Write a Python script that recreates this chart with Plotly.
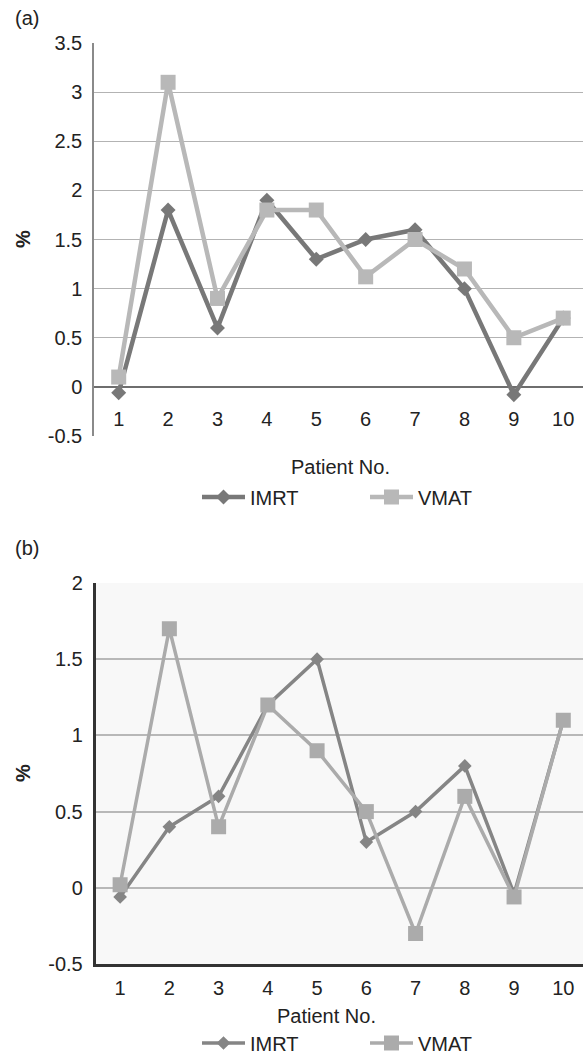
import plotly.graph_objects as go

patients = [1, 2, 3, 4, 5, 6, 7, 8, 9, 10]
tick_labels = ["1", "2", "3", "4", "5", "6", "7", "8", "9", "10"]

imrt_a = [-0.06, 1.8, 0.6, 1.9, 1.3, 1.5, 1.6, 1.0, -0.08, 0.7]
vmat_a = [0.1, 3.1, 0.9, 1.8, 1.8, 1.12, 1.5, 1.2, 0.5, 0.7]

imrt_b = [-0.06, 0.4, 0.6, 1.2, 1.5, 0.3, 0.5, 0.8, -0.04, 1.1]
vmat_b = [0.02, 1.7, 0.4, 1.2, 0.9, 0.5, -0.3, 0.6, -0.06, 1.1]

ya_ticks = [-0.5, 0, 0.5, 1, 1.5, 2, 2.5, 3, 3.5]
ya_text = ["-0.5", "0", "0.5", "1", "1.5", "2", "2.5", "3", "3.5"]
yb_ticks = [-0.5, 0, 0.5, 1, 1.5, 2]
yb_text = ["-0.5", "0", "0.5", "1", "1.5", "2"]

W, H = 583, 1057
FONT = "Liberation Sans, Arial, Helvetica, sans-serif"
TXT = "#222222"
FS = 20

def fy(px):
    return 1 - px / H

fig = go.Figure()

# Panel (a)
fig.add_trace(go.Scatter(x=patients, y=imrt_a, name="IMRT", mode="lines+markers",
                         xaxis="x", yaxis="y", legend="legend",
                         line=dict(color="#787878", width=4.5),
                         marker=dict(symbol="diamond", size=11.5, color="#787878")))
fig.add_trace(go.Scatter(x=patients, y=vmat_a, name="VMAT", mode="lines+markers",
                         xaxis="x", yaxis="y", legend="legend",
                         line=dict(color="#b8b8b8", width=4.5),
                         marker=dict(symbol="square", size=15, color="#b8b8b8")))

# Panel (b)
fig.add_trace(go.Scatter(x=patients, y=imrt_b, name="IMRT", mode="lines+markers",
                         xaxis="x2", yaxis="y2", legend="legend2",
                         line=dict(color="#858585", width=3.5),
                         marker=dict(symbol="diamond", size=10.5, color="#858585")))
fig.add_trace(go.Scatter(x=patients, y=vmat_b, name="VMAT", mode="lines+markers",
                         xaxis="x2", yaxis="y2", legend="legend2",
                         line=dict(color="#ababab", width=3.5),
                         marker=dict(symbol="square", size=15, color="#ababab")))

ya_dom = [fy(436), fy(43)]
yb_dom = [fy(964), fy(583)]
a_range = [-0.5, 3.5]
zero_pos_a = ya_dom[0] + (0 - a_range[0]) / (a_range[1] - a_range[0]) * (ya_dom[1] - ya_dom[0])

common_x = dict(tickmode="array", tickvals=patients, ticktext=tick_labels,
                showgrid=False, zeroline=False, fixedrange=True, automargin=False,
                tickfont=dict(family=FONT, size=FS, color=TXT),
                ticks="outside", tickcolor="rgba(0,0,0,0)")

fig.update_layout(
    width=W, height=H,
    margin=dict(l=0, r=0, t=0, b=0, autoexpand=False),
    paper_bgcolor="white",
    plot_bgcolor="rgba(0,0,0,0)",
    font=dict(family=FONT, size=FS, color=TXT),
    xaxis=dict(domain=[94 / W, 1.0], range=[0.5, 10.4], anchor="free",
               position=zero_pos_a, showline=False, ticklen=14, **common_x),
    yaxis=dict(domain=ya_dom, range=a_range, tickmode="array", tickvals=ya_ticks, ticktext=ya_text,
               showgrid=True, gridcolor="#b3b3b3", gridwidth=1.3, automargin=False,
               zeroline=True, zerolinecolor="#6e6e6e", zerolinewidth=2,
               showline=True, linecolor="#8a8a8a", linewidth=1.5, fixedrange=True,
               ticks="outside", ticklen=6, tickcolor="rgba(0,0,0,0)",
               tickfont=dict(family=FONT, size=FS, color=TXT), anchor="x"),
    xaxis2=dict(domain=[95.5 / W, 1.0], range=[0.5, 10.4], anchor="y2",
                showline=True, linecolor="#333333", linewidth=2.5,
                ticklen=4, **common_x),
    yaxis2=dict(domain=yb_dom, range=[-0.5, 2.0], tickmode="array", tickvals=yb_ticks, ticktext=yb_text,
                showgrid=True, gridcolor="#b8b8b8", gridwidth=1.5, automargin=False,
                zeroline=False, fixedrange=True,
                showline=True, linecolor="#333333", linewidth=2.5,
                ticks="outside", ticklen=6, tickcolor="rgba(0,0,0,0)",
                tickfont=dict(family=FONT, size=FS, color=TXT), anchor="x2"),
    legend=dict(orientation="h", x=197 / W, xanchor="left", y=fy(497), yanchor="middle",
                font=dict(family=FONT, size=FS, color=TXT), entrywidth=110, itemwidth=43,
                bgcolor="rgba(0,0,0,0)", itemclick=False),
    legend2=dict(orientation="h", x=197 / W, xanchor="left", y=fy(1043), yanchor="middle",
                 font=dict(family=FONT, size=FS, color=TXT), entrywidth=110, itemwidth=43,
                 bgcolor="rgba(0,0,0,0)", itemclick=False),
    showlegend=True,
    hovermode=False,
)

# plot background of panel (b)
fig.add_shape(type="rect", xref="x2 domain", yref="y2 domain", x0=0, x1=1, y0=0, y1=1,
              fillcolor="#f8f8f8", line=dict(width=0), layer="below")

annos = [
    dict(text="(a)", x=13 / W, y=fy(18), xanchor="left", yanchor="middle"),
    dict(text="(b)", x=13 / W, y=fy(548), xanchor="left", yanchor="middle"),
    dict(text="<b>%</b>", x=23 / W, y=fy(239), xanchor="center", yanchor="middle", textangle=-90),
    dict(text="<b>%</b>", x=23 / W, y=fy(773), xanchor="center", yanchor="middle", textangle=-90),
    dict(text="Patient No.", x=340 / W, y=fy(467), xanchor="center", yanchor="middle"),
    dict(text="Patient No.", x=326 / W, y=fy(1016), xanchor="center", yanchor="middle"),
]
for a in annos:
    fig.add_annotation(xref="paper", yref="paper", showarrow=False,
                       font=dict(family=FONT, size=FS, color=TXT), **a)

fig.write_html("out.html", config={"displayModeBar": False},
               post_script="document.body.style.margin='0';document.body.style.overflow='hidden';")
